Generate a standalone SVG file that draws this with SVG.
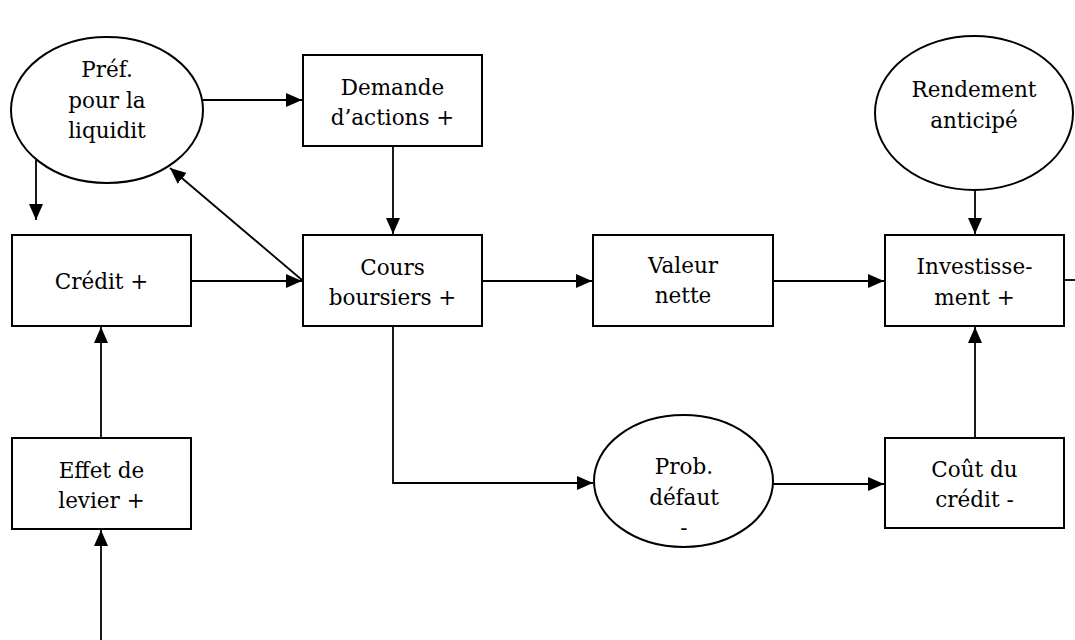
<svg xmlns="http://www.w3.org/2000/svg" width="1075" height="640" viewBox="0 0 1075 640">
<style>
.n{fill:#fff;stroke:#000;stroke-width:2}
.t{font-family:"DejaVu Serif","Liberation Serif",serif;font-size:21.5px;fill:#000;text-anchor:middle}
.c{fill:none;stroke:#000;stroke-width:1.8}
</style>
<defs>
<marker id="a" markerUnits="userSpaceOnUse" markerWidth="16" markerHeight="14" refX="16" refY="7" orient="auto">
<path d="M0,0 L16,7 L0,14 z" fill="#000"/>
</marker>
</defs>
<rect width="1075" height="640" fill="#fff"/>
<g id="connectors">
<path class="c" d="M203,100 H302" marker-end="url(#a)"/>
<path class="c" d="M36,160 V220" marker-end="url(#a)"/>
<path class="c" d="M302,280 L170,168" marker-end="url(#a)"/>
<path class="c" d="M393,146 V234" marker-end="url(#a)"/>
<path class="c" d="M191,281 H302" marker-end="url(#a)"/>
<path class="c" d="M482,281 H592" marker-end="url(#a)"/>
<path class="c" d="M773,281 H884" marker-end="url(#a)"/>
<path class="c" d="M975,190 V234" marker-end="url(#a)"/>
<path class="c" d="M975,438 V327" marker-end="url(#a)"/>
<path class="c" d="M1064,280 H1075"/>
<path class="c" d="M393,326 V483 H593" marker-end="url(#a)"/>
<path class="c" d="M773,484 H884" marker-end="url(#a)"/>
<path class="c" d="M101,438 V327" marker-end="url(#a)"/>
<path class="c" d="M101,640 V530" marker-end="url(#a)"/>
</g>
<g id="pref">
<ellipse class="n" cx="107" cy="110" rx="96" ry="73"/>
<text class="t" x="107" y="77">Préf.</text>
<text class="t" x="107" y="108">pour la</text>
<text class="t" x="107" y="138">liquidit</text>
</g>
<g id="demande">
<rect class="n" x="303" y="55" width="179" height="91"/>
<text class="t" x="392.5" y="95">Demande</text>
<text class="t" x="392.5" y="125">d’actions +</text>
</g>
<g id="rendement">
<ellipse class="n" cx="974" cy="113" rx="99" ry="77"/>
<text class="t" x="974" y="97">Rendement</text>
<text class="t" x="974" y="128">anticipé</text>
</g>
<g id="credit">
<rect class="n" x="12" y="235" width="179" height="91"/>
<text class="t" x="101.5" y="289">Crédit +</text>
</g>
<g id="cours">
<rect class="n" x="303" y="235" width="179" height="91"/>
<text class="t" x="392.5" y="275">Cours</text>
<text class="t" x="392.5" y="305">boursiers +</text>
</g>
<g id="valeur">
<rect class="n" x="593" y="235" width="180" height="91"/>
<text class="t" x="683" y="273">Valeur</text>
<text class="t" x="683" y="303">nette</text>
</g>
<g id="investissement">
<rect class="n" x="885" y="235" width="179" height="91"/>
<text class="t" x="974.5" y="274">Investisse-</text>
<text class="t" x="974.5" y="305">ment +</text>
</g>
<g id="effet">
<rect class="n" x="12" y="438" width="179" height="91"/>
<text class="t" x="101.5" y="478">Effet de</text>
<text class="t" x="101.5" y="508">levier +</text>
</g>
<g id="prob">
<ellipse class="n" cx="683.5" cy="481" rx="89.5" ry="66"/>
<text class="t" x="684" y="474">Prob.</text>
<text class="t" x="684" y="505">défaut</text>
<text class="t" x="684" y="535">-</text>
</g>
<g id="cout">
<rect class="n" x="885" y="438" width="179" height="90"/>
<text class="t" x="974.5" y="477">Coût du</text>
<text class="t" x="974.5" y="507">crédit -</text>
</g>
</svg>
